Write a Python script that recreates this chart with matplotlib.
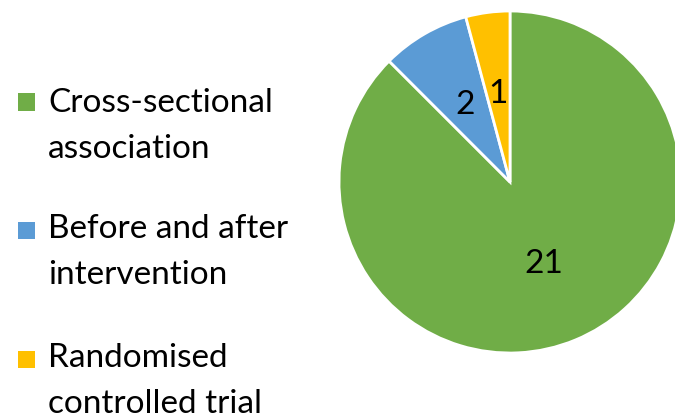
import matplotlib
matplotlib.use("Agg")
import matplotlib.pyplot as plt
from matplotlib.patches import Rectangle

categories = ["Cross-sectional\nassociation", "Before and after\nintervention", "Randomised\ncontrolled trial"]
values = [21, 2, 1]
colors = ["#70AD47", "#5B9BD5", "#FFC000"]

plt.rcParams['font.family'] = ['Lato', 'DejaVu Sans']

W, H = 675, 418
fig = plt.figure(figsize=(W/100, H/100), dpi=100)

cx, cy, r = 510, 182, 171
ax = fig.add_axes([(cx - r)/W, (H - cy - r)/H, 2*r/W, 2*r/H])
wedges, texts = ax.pie(values, colors=colors, startangle=90, counterclock=False,
                       labels=[str(v) for v in values], labeldistance=0.52,
                       wedgeprops=dict(edgecolor="white", linewidth=2),
                       textprops=dict(fontsize=24, color="black"))
for t in texts:
    t.set_horizontalalignment("center")
    t.set_verticalalignment("center")
ax.set_xlim(-1, 1)
ax.set_ylim(-1, 1)
ax.set_aspect("equal")
ax.axis("off")

# legend
marker_y = [102, 230, 359]
baselines = [112, 238, 367]
line_gap = 46
for lab, col, my, by in zip(categories, colors, marker_y, baselines):
    fig.patches.append(Rectangle((18/W, 1 - (my + 8.5)/H), 17/W, 17/H,
                                 transform=fig.transFigure, facecolor=col, edgecolor="none"))
    for i, line in enumerate(lab.split("\n")):
        fig.text(48/W, 1 - (by + i*line_gap)/H, line, fontsize=24, va="baseline",
                 ha="left", color="black")

fig.savefig("out.png", dpi=100)
